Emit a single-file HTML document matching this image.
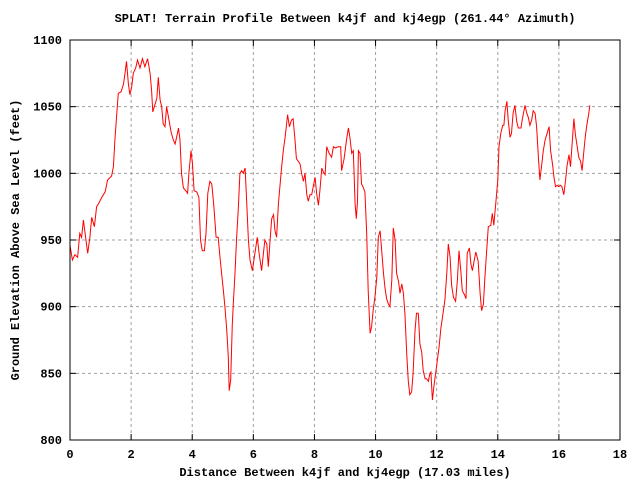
<!DOCTYPE html>
<html><head><meta charset="utf-8"><style>
body{margin:0;background:#fff}
svg text{font-family:"Liberation Mono",monospace;font-size:12px;font-weight:bold;fill:#000}
</style></head><body>
<svg width="640" height="480" viewBox="0 0 640 480">
<g id="grid"></g>
<g id="ticks"></g>
<path id="line" fill="none" stroke="#ff0000" stroke-width="1"/>
<rect x="70" y="40" width="550" height="400" fill="none" stroke="#000" stroke-width="1"/>
<text x="345" y="22" text-anchor="middle">SPLAT! Terrain Profile Between k4jf and kj4egp (261.44° Azimuth)</text>
<text x="345" y="476" text-anchor="middle">Distance Between k4jf and kj4egp (17.03 miles)</text>
<text x="19" y="240" text-anchor="middle" transform="rotate(-90 19 240)">Ground Elevation Above Sea Level (feet)</text>
</svg>
<script>
const xTicks=[0,2,4,6,8,10,12,14,16,18];
const yTicks=[800,850,900,950,1000,1050,1100];
const distance=[0.00,0.08,0.16,0.25,0.32,0.38,0.44,0.51,0.58,0.65,0.71,0.80,0.87,0.93,1.04,1.15,1.23,1.36,1.42,1.47,1.53,1.58,1.67,1.75,1.80,1.85,1.91,1.96,2.02,2.07,2.15,2.21,2.29,2.37,2.45,2.54,2.62,2.67,2.71,2.76,2.84,2.89,2.95,3.00,3.05,3.11,3.16,3.24,3.31,3.38,3.44,3.49,3.55,3.60,3.65,3.71,3.79,3.85,3.89,3.96,4.01,4.06,4.15,4.22,4.27,4.33,4.40,4.45,4.51,4.58,4.64,4.71,4.78,4.85,4.91,4.96,5.02,5.07,5.13,5.18,5.21,5.26,5.31,5.35,5.40,5.45,5.51,5.56,5.62,5.67,5.73,5.78,5.84,5.89,5.97,6.05,6.13,6.19,6.27,6.33,6.38,6.44,6.49,6.55,6.60,6.66,6.71,6.76,6.82,6.87,6.93,6.98,7.04,7.09,7.12,7.18,7.25,7.30,7.36,7.41,7.47,7.53,7.58,7.64,7.69,7.75,7.80,7.85,7.91,7.96,8.02,8.07,8.13,8.18,8.24,8.29,8.35,8.40,8.48,8.56,8.62,8.69,8.77,8.86,8.89,8.97,9.05,9.11,9.16,9.22,9.27,9.33,9.37,9.41,9.44,9.49,9.54,9.59,9.65,9.71,9.76,9.82,9.87,9.92,9.98,10.04,10.09,10.15,10.20,10.26,10.31,10.36,10.42,10.47,10.53,10.58,10.64,10.69,10.75,10.80,10.86,10.91,10.96,11.02,11.07,11.12,11.18,11.23,11.29,11.34,11.40,11.45,11.51,11.56,11.62,11.67,11.73,11.78,11.81,11.86,11.92,12.00,12.08,12.14,12.22,12.27,12.33,12.38,12.44,12.49,12.55,12.62,12.68,12.73,12.79,12.84,12.91,12.96,13.00,13.07,13.12,13.17,13.23,13.28,13.36,13.42,13.47,13.53,13.58,13.63,13.69,13.77,13.82,13.87,13.93,14.00,14.04,14.10,14.16,14.20,14.24,14.30,14.34,14.40,14.45,14.50,14.56,14.62,14.67,14.76,14.80,14.89,14.95,15.00,15.05,15.11,15.16,15.22,15.27,15.33,15.38,15.44,15.49,15.55,15.64,15.68,15.73,15.79,15.84,15.89,15.94,16.00,16.05,16.10,16.16,16.22,16.27,16.33,16.38,16.44,16.49,16.54,16.60,16.65,16.71,16.76,16.82,16.87,16.92,16.98,17.01];
const elevation=[946,935,939,937,955,952,965,952,940,952,967,960,975,977,982,986,995,998,1005,1025,1045,1060,1061,1067,1075,1084,1067,1059,1065,1075,1079,1085,1079,1086,1080,1086,1075,1062,1046,1050,1056,1072,1055,1050,1037,1035,1050,1040,1031,1025,1022,1027,1034,1025,1000,989,987,985,1000,1017,1007,987,986,982,950,942,942,955,985,994,992,975,952,952,937,925,912,900,882,862,837,845,887,905,925,950,975,1000,1002,1000,1004,980,950,935,927,940,952,940,927,940,950,947,930,950,966,969,957,952,977,990,1006,1017,1027,1037,1044,1035,1040,1041,1026,1011,1009,1007,1000,994,1000,984,979,984,984,990,997,985,976,987,1004,1001,999,1020,1015,1012,1020,1019,1020,1020,1002,1011,1025,1034,1027,1015,1017,977,966,979,1017,1015,992,990,986,955,912,880,885,897,907,922,952,957,942,925,914,906,902,900,920,959,950,925,919,910,917,910,895,865,844,834,836,850,882,895,895,872,866,852,846,846,844,850,851,830,842,856,870,884,897,905,925,947,937,916,907,904,920,942,927,912,909,906,940,944,932,927,935,941,934,910,897,902,922,940,960,961,970,961,976,995,1020,1030,1036,1036,1047,1054,1040,1027,1030,1045,1051,1039,1034,1034,1040,1051,1045,1042,1036,1040,1047,1045,1035,1012,995,1007,1017,1025,1032,1035,1017,1007,997,990,991,990,991,990,984,995,1006,1014,1005,1024,1041,1029,1020,1012,1009,1002,1017,1029,1037,1045,1051];
const L=70,R=620,T=40,B=440;
const xs=d=>L+(d-0)/(18-0)*(R-L);
const ys=v=>B-(v-800)/(1100-800)*(B-T);
const NS='http://www.w3.org/2000/svg';
const grid=document.getElementById('grid'),ticks=document.getElementById('ticks'),svg=document.querySelector('svg');
function mk(tag,attrs,parent){const e=document.createElementNS(NS,tag);for(const k in attrs)e.setAttribute(k,attrs[k]);parent.appendChild(e);return e;}
xTicks.forEach(t=>{const x=xs(t);
 if(t>0&&t<18){const g=mk('line',{x1:x,y1:T,x2:x,y2:B,stroke:'#a0a0a0','stroke-dasharray':'3,3'},grid);
 
 }
 const a=mk('line',{x1:x,y1:B,x2:x,y2:B-6,stroke:'#000'},ticks);
 
 
 const b=mk('line',{x1:x,y1:T,x2:x,y2:T+6,stroke:'#000'},ticks);
 
 
 const tx=mk('text',{x:x,y:458,'text-anchor':'middle'},svg);tx.textContent=t;
 
 
});
yTicks.forEach(t=>{const y=ys(t);
 if(t>800&&t<1100){const g=mk('line',{x1:L,y1:y,x2:R,y2:y,stroke:'#a0a0a0','stroke-dasharray':'3,3'},grid);
 
 }
 const a=mk('line',{x1:L,y1:y,x2:L+6,y2:y,stroke:'#000'},ticks);
 
 
 const b=mk('line',{x1:R,y1:y,x2:R-6,y2:y,stroke:'#000'},ticks);
 
 
 const tx=mk('text',{x:62,y:y+4,'text-anchor':'end'},svg);tx.textContent=t;
 
 
});
let d='';distance.forEach((v,i)=>{d+=(i?'L':'M')+xs(v).toFixed(1)+','+ys(elevation[i]).toFixed(1);});
document.getElementById('line').setAttribute('d',d);
</script>
</body></html>
